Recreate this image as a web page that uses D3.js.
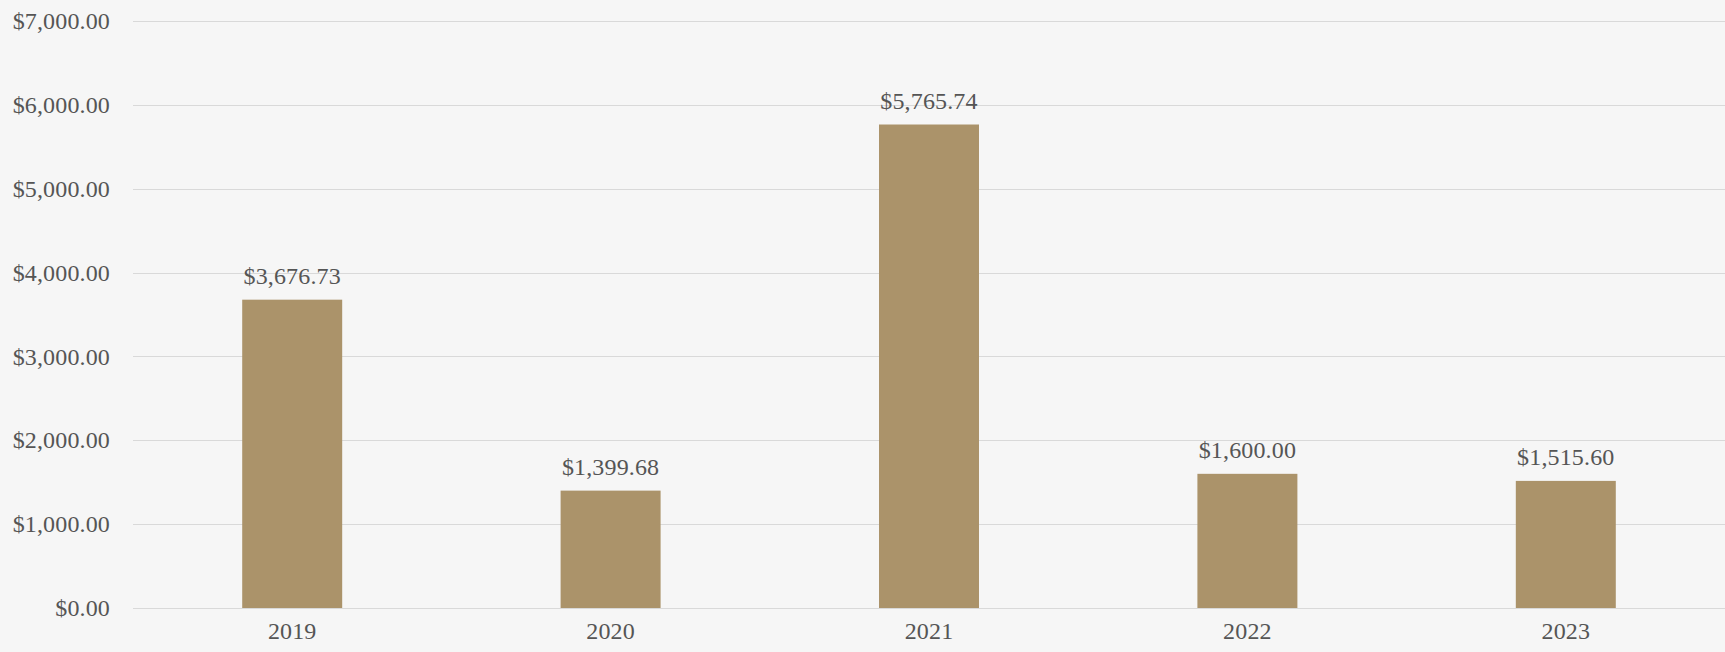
<!DOCTYPE html>
<html>
<head>
<meta charset="utf-8">
<script src="https://cdn.jsdelivr.net/npm/d3@7"></script>
<style>
  html, body { margin: 0; padding: 0; background: #f6f6f6; }
  svg { display: block; }
  text { font-family: "Liberation Serif", "DejaVu Serif", serif; fill: #555555; letter-spacing: 0.15px; }
</style>
</head>
<body>
<svg id="chart" width="1725" height="652"></svg>
<script>
// Yearly totals
const years = ["2019", "2020", "2021", "2022", "2023"];
const amounts = [3676.73, 1399.68, 5765.74, 1600.00, 1515.60];
const yTicks = [0, 1000, 2000, 3000, 4000, 5000, 6000, 7000];

const W = 1725, H = 652;
const margin = { top: 21, right: 0, bottom: 44, left: 133 };
const fontSize = 24;

const svg = d3.select("#chart");

const x = d3.scaleBand()
  .domain(years)
  .range([margin.left, W - margin.right])
  .padding(0);

const y = d3.scaleLinear()
  .domain([0, 7000])
  .range([H - margin.bottom, margin.top]);

const money = v => "$" + d3.format(",.2f")(v);
const barW = x.bandwidth() * 0.314;

// horizontal gridlines
svg.append("g")
  .selectAll("line")
  .data(yTicks)
  .join("line")
  .attr("x1", margin.left)
  .attr("x2", W - margin.right)
  .attr("y1", d => Math.round(y(d)) + 0.5)
  .attr("y2", d => Math.round(y(d)) + 0.5)
  .attr("stroke", "#d9d9d9")
  .attr("stroke-width", 1.2);

// y axis labels
const yAxis = d3.axisLeft(y).tickValues(yTicks).tickFormat(money).tickSize(0).tickPadding(23);
svg.append("g")
  .attr("transform", `translate(${margin.left},0)`)
  .call(yAxis)
  .call(g => g.select(".domain").remove())
  .call(g => g.selectAll("text")
    .attr("font-size", fontSize)
    .attr("font-family", "Liberation Serif, serif")
    .attr("fill", "#555555"));

// bars
svg.append("g")
  .selectAll("rect")
  .data(years.map((yr, i) => ({ yr, v: amounts[i] })))
  .join("rect")
  .attr("x", d => x(d.yr) + x.bandwidth() / 2 - barW / 2)
  .attr("width", barW)
  .attr("y", d => y(d.v))
  .attr("height", d => y(0) - y(d.v))
  .attr("fill", "#ab936a");

// value labels
svg.append("g")
  .selectAll("text")
  .data(years.map((yr, i) => ({ yr, v: amounts[i] })))
  .join("text")
  .attr("x", d => x(d.yr) + x.bandwidth() / 2)
  .attr("y", d => y(d.v) - 16)
  .attr("text-anchor", "middle")
  .attr("font-size", fontSize)
  .text(d => money(d.v));

// x axis labels
const xAxis = d3.axisBottom(x).tickSize(0).tickPadding(14);
svg.append("g")
  .attr("transform", `translate(0,${H - margin.bottom})`)
  .call(xAxis)
  .call(g => g.select(".domain").remove())
  .call(g => g.selectAll("text")
    .attr("font-size", fontSize)
    .attr("font-family", "Liberation Serif, serif")
    .attr("fill", "#555555"));
</script>
</body>
</html>
